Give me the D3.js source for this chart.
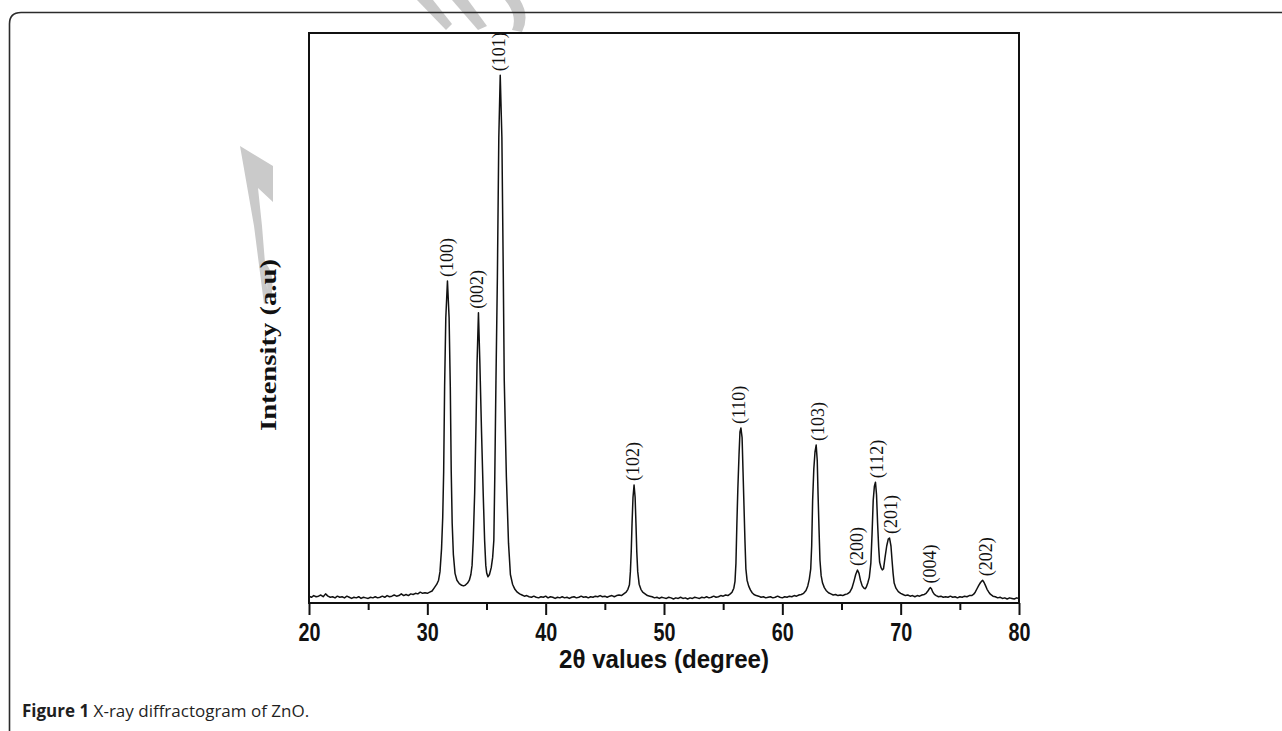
<!DOCTYPE html>
<html lang="en">
<head>
    <meta charset="UTF-8">
    <title>X-ray diffractogram of ZnO</title>
    <style>
        body {
            margin: 0;
            padding: 0;
            background: #fff;
        }
        svg {
            display: block;
        }
        .peak-label {
            font-family: "Liberation Serif", "Times New Roman", serif;
            font-size: 18px;
            fill: #111;
        }
        .y-title {
            font-family: "Liberation Serif", "Times New Roman", serif;
            font-weight: bold;
            font-size: 24px;
            fill: #111;
        }
        .x-tick text {
            font-family: "Liberation Sans", Arial, sans-serif;
            font-weight: bold;
            font-size: 26px;
            fill: #111;
        }
        .x-title {
            font-family: "Liberation Sans", Arial, sans-serif;
            font-weight: bold;
            font-size: 25px;
            fill: #111;
        }
        .caption {
            font-family: "Open Sans", "Noto Sans", sans-serif;
            font-size: 17px;
            fill: #1f1f1f;
        }
    </style>
</head>
<body>
<svg id="chart" width="1282" height="731"></svg>
<script src="https://d3js.org/d3.v7.min.js"></script>
<script>
    // scan: [2theta (deg), intensity (a.u.)]
    const scanLow = [
        [20.0, 12], [20.2, 10], [20.4, 13], [20.6, 11], [20.8, 12], [21.0, 14], [21.2, 11], [21.4, 16],
        [21.6, 12], [21.8, 10], [22.0, 11], [22.2, 9], [22.4, 12], [22.6, 10], [22.8, 11], [23.0, 9],
        [23.2, 12], [23.4, 10], [23.6, 8], [23.8, 10], [24.0, 9], [24.2, 11], [24.4, 8], [24.6, 10],
        [24.8, 9], [25.0, 8], [25.2, 10], [25.4, 9], [25.6, 11], [25.8, 9], [26.0, 10], [26.2, 12],
        [26.4, 10], [26.6, 13], [26.8, 11], [27.0, 12], [27.2, 14], [27.4, 12], [27.6, 13], [27.8, 16],
        [28.0, 13], [28.2, 15], [28.4, 13], [28.6, 16], [28.8, 15], [29.0, 17], [29.2, 16], [29.4, 19],
        [29.6, 17], [29.8, 18], [30.0, 17], [30.2, 19], [30.4, 21], [30.6, 27], [30.8, 33], [30.95, 40],
        [31.07, 55], [31.2, 95], [31.3, 150], [31.38, 230], [31.46, 380], [31.56, 500], [31.7, 565],
        [31.84, 500], [31.94, 380], [32.02, 230], [32.1, 140], [32.2, 85], [32.34, 52], [32.5, 40],
        [32.7, 34], [32.9, 31], [33.05, 30], [33.2, 31], [33.4, 35], [33.55, 40], [33.68, 50], [33.78, 66],
        [33.88, 110], [34.0, 193], [34.12, 321], [34.2, 420], [34.32, 509], [34.44, 420], [34.58, 300],
        [34.72, 193], [34.84, 110], [34.94, 66], [35.02, 52], [35.12, 46], [35.25, 50], [35.4, 62],
        [35.52, 80], [35.62, 110], [35.7, 221], [35.8, 391], [35.92, 572], [36.04, 817], [36.16, 926],
        [36.3, 817], [36.42, 572], [36.5, 391], [36.68, 221], [36.86, 105], [37.02, 50], [37.2, 33],
        [37.4, 24], [37.6, 19], [37.8, 16], [38.0, 14]
    ];
    const scanMid = [
        [38.2, 12], [38.4, 13], [38.6, 11], [38.8, 10], [39.0, 12], [39.2, 10], [39.4, 9], [39.6, 11],
        [39.8, 10], [40.0, 12], [40.2, 9], [40.4, 11], [40.6, 10], [40.8, 8], [41.0, 10], [41.2, 9],
        [41.4, 11], [41.6, 9], [41.8, 10], [42.0, 8], [42.2, 10], [42.4, 11], [42.6, 9], [42.8, 10],
        [43.0, 12], [43.2, 10], [43.4, 11], [43.6, 9], [43.8, 11], [44.0, 10], [44.2, 12], [44.4, 11],
        [44.6, 13], [44.8, 11], [45.0, 12], [45.2, 10], [45.4, 12], [45.6, 13], [45.8, 11], [46.0, 13],
        [46.2, 14], [46.4, 13], [46.6, 16], [46.8, 19], [46.95, 24], [47.08, 32], [47.16, 55], [47.23, 90],
        [47.3, 140], [47.38, 185], [47.47, 207], [47.56, 185], [47.63, 140], [47.7, 90], [47.78, 55],
        [47.9, 33], [48.05, 24], [48.2, 19], [48.4, 16], [48.6, 13], [48.8, 12], [49.0, 11], [49.2, 9],
        [49.4, 10], [49.6, 8], [49.8, 10], [50.0, 9], [50.2, 8], [50.4, 10], [50.6, 9], [50.8, 7],
        [51.0, 9], [51.2, 8], [51.4, 10], [51.6, 8], [51.8, 9], [52.0, 7], [52.2, 9], [52.4, 8],
        [52.6, 10], [52.8, 9], [53.0, 8], [53.2, 10], [53.4, 9], [53.6, 11], [53.8, 9], [54.0, 10],
        [54.2, 12], [54.4, 10], [54.6, 11], [54.8, 13], [55.0, 12], [55.2, 14], [55.4, 13], [55.6, 16],
        [55.75, 19], [55.9, 26], [56.0, 38], [56.08, 70], [56.16, 140], [56.24, 200], [56.34, 260],
        [56.42, 300], [56.5, 307], [56.6, 290], [56.68, 230], [56.76, 170], [56.84, 110], [56.92, 60],
        [57.02, 40], [57.15, 30], [57.3, 23], [57.45, 18], [57.6, 15], [57.8, 13], [58.0, 12], [58.2, 10],
        [58.4, 11], [58.6, 9], [58.8, 10], [59.0, 11], [59.2, 9], [59.4, 10], [59.6, 12], [59.8, 10]
    ];
    const scanHigh = [
        [60.0, 9], [60.2, 11], [60.4, 10], [60.6, 12], [60.8, 11], [61.0, 13], [61.2, 12], [61.4, 14],
        [61.6, 15], [61.8, 17], [62.0, 22], [62.15, 30], [62.28, 42], [62.4, 60], [62.48, 100],
        [62.56, 180], [62.66, 235], [62.76, 265], [62.86, 277], [62.95, 250], [63.02, 190], [63.1, 130],
        [63.18, 75], [63.28, 48], [63.4, 35], [63.55, 27], [63.7, 22], [63.9, 18], [64.1, 16], [64.3, 14],
        [64.5, 15], [64.7, 13], [64.9, 14], [65.1, 13], [65.3, 15], [65.5, 16], [65.7, 19], [65.88, 26],
        [66.05, 38], [66.2, 50], [66.35, 58], [66.48, 52], [66.6, 40], [66.75, 30], [66.9, 26], [67.0, 25],
        [67.1, 28], [67.22, 35], [67.35, 45], [67.48, 70], [67.58, 120], [67.68, 180], [67.78, 205],
        [67.87, 212], [67.96, 190], [68.05, 140], [68.14, 98], [68.22, 72], [68.34, 62], [68.45, 58],
        [68.55, 60], [68.68, 80], [68.82, 100], [68.95, 112], [69.06, 114], [69.18, 100], [69.27, 75],
        [69.36, 52], [69.45, 35], [69.6, 26], [69.8, 20], [70.0, 17], [70.2, 15], [70.4, 13], [70.6, 14],
        [70.8, 12], [71.0, 13], [71.2, 11], [71.4, 13], [71.6, 12], [71.8, 14], [72.0, 15], [72.15, 17],
        [72.3, 21], [72.42, 25], [72.5, 27], [72.6, 25], [72.72, 19], [72.85, 15], [73.0, 13], [73.2, 11],
        [73.4, 12], [73.6, 10], [73.8, 11], [74.0, 10], [74.2, 12], [74.4, 10], [74.6, 11], [74.8, 9],
        [75.0, 11], [75.2, 10], [75.4, 12], [75.6, 11], [75.8, 13], [76.0, 13], [76.15, 15], [76.3, 19],
        [76.45, 25], [76.6, 31], [76.75, 36], [76.92, 40], [77.05, 36], [77.18, 30], [77.3, 24],
        [77.45, 19], [77.6, 15], [77.8, 12], [78.0, 11], [78.2, 9], [78.4, 10], [78.6, 8], [78.8, 9],
        [79.0, 7], [79.2, 9], [79.4, 8], [79.6, 7], [79.8, 9], [80.0, 8]
    ];

    // reflections: Miller index, label position (deg) and peak top intensity
    const peakHkl = ['(100)', '(002)', '(101)', '(102)', '(110)', '(103)', '(200)', '(112)', '(201)', '(004)', '(202)'];
    const peakPos = [31.67, 34.2, 36.06, 47.39, 56.35, 63.0, 66.32, 68.0, 69.2, 72.5, 77.2];
    const peakTop = [565, 509, 926, 207, 307, 277, 58, 212, 114, 27, 40];

    const majorTicks = [20, 30, 40, 50, 60, 70, 80];
    const minorTicks = [25, 35, 45, 55, 65, 75];

    const svg = d3.select('#chart');

    const x = d3.scaleLinear().domain([20, 80]).range([309, 1019]);
    const y = d3.scaleLinear().domain([0, 1000]).range([603, 33]);

    // watermark pieces (grey, behind everything)
    const mark = svg.append('g').attr('fill', '#cacaca');
    mark.append('path').attr('d', 'M240,146 L273,166 L273,202 L258,188 L262,226 L268,300 L264,304 L254,226 Z');
    mark.append('path').attr('d', 'M264,262 Q276,272 271,298 L266,296 Q270,278 260,268 Z');
    mark.append('path').attr('d', 'M417,0 L433,0 L452,24 L446,30 Z');
    mark.append('path').attr('d', 'M452,0 L468,0 L487,26 L478,30 Z');
    mark.append('path').attr('d', 'M505,0 L520,0 Q530,16 522,32 L512,30 Q518,16 505,0 Z');

    // page frame
    svg.append('path')
        .attr('d', 'M1282,12.5 H21 Q9.5,12.5 9.5,24 V731')
        .attr('fill', 'none')
        .attr('stroke', '#2b2b2b')
        .attr('stroke-width', 1.6);

    // plot box
    svg.append('rect')
        .attr('x', x(20))
        .attr('y', y(1000))
        .attr('width', x(80) - x(20))
        .attr('height', y(0) - y(1000))
        .attr('fill', 'none')
        .attr('stroke', '#111')
        .attr('stroke-width', 2);

    const xAxis = svg.append('g')
        .attr('class', 'x-tick')
        .attr('transform', `translate(0,${y(0)})`)
        .call(d3.axisBottom(x).tickValues(majorTicks).tickSize(12).tickFormat(d3.format('d')));
    xAxis.select('.domain').remove();
    xAxis.selectAll('line').attr('stroke', '#111').attr('stroke-width', 2);
    xAxis.selectAll('text')
        .attr('y', null)
        .attr('dy', null)
        .attr('transform', 'translate(0,38) scale(0.76,1)');

    const xMinor = svg.append('g')
        .attr('transform', `translate(0,${y(0)})`)
        .call(d3.axisBottom(x).tickValues(minorTicks).tickSize(7).tickFormat(''));
    xMinor.select('.domain').remove();
    xMinor.selectAll('line').attr('stroke', '#111').attr('stroke-width', 2);

    // diffraction pattern
    const scan = scanLow.concat(scanMid, scanHigh);
    const line = d3.line()
        .x(d => x(d[0]))
        .y(d => y(d[1]));

    svg.append('path')
        .datum(scan)
        .attr('fill', 'none')
        .attr('stroke', '#111')
        .attr('stroke-width', 1.5)
        .attr('stroke-linejoin', 'round')
        .attr('d', line);

    // reflection labels
    svg.append('g')
        .selectAll('text')
        .data(peakHkl)
        .enter().append('text')
        .attr('class', 'peak-label')
        .attr('transform', (d, i) => `translate(${x(peakPos[i])},${y(peakTop[i]) - 4}) rotate(-90)`)
        .attr('dy', '0.33em')
        .text(d => d);

    // axis titles
    svg.append('text')
        .attr('class', 'y-title')
        .attr('transform', 'translate(268,345) rotate(-90)')
        .attr('text-anchor', 'middle')
        .attr('dy', '0.35em')
        .attr('textLength', 172)
        .attr('lengthAdjust', 'spacingAndGlyphs')
        .text('Intensity (a.u)');

    svg.append('text')
        .attr('class', 'x-title')
        .attr('x', 664)
        .attr('y', 668)
        .attr('text-anchor', 'middle')
        .attr('textLength', 210)
        .attr('lengthAdjust', 'spacingAndGlyphs')
        .text('2θ values (degree)');

    // figure caption
    const cap = svg.append('text')
        .attr('class', 'caption')
        .attr('x', 22)
        .attr('y', 717);
    cap.append('tspan').attr('font-weight', 'bold').text('Figure 1');
    cap.append('tspan').text(' X-ray diffractogram of ZnO.');
</script>
</body>
</html>
